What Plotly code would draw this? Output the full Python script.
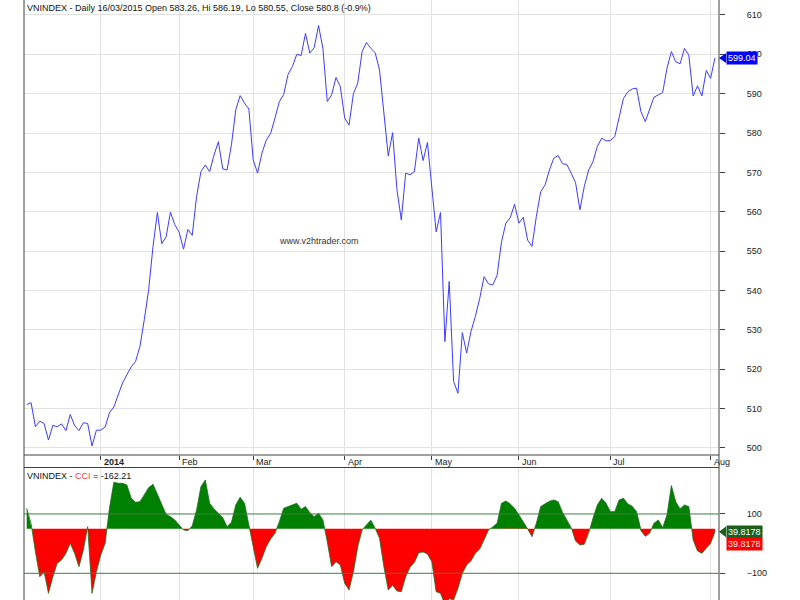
import plotly.graph_objects as go

# ---------------- data ----------------
close = [
    # Dec 2013
    511.0, 511.5, 505.4, 506.8, 506.2, 502.0, 505.7, 505.4, 506.1, 504.4, 508.5, 505.7, 504.4, 506.4, 506.2, 500.5, 504.5,
    # Jan 2014
    504.5, 505.3, 508.9, 510.4, 513.7, 516.5, 518.6, 520.6, 522.0, 525.8, 532.6, 540.2, 551.2, 559.8, 551.9, 553.6, 559.9, 556.7,
    # Feb
    554.8, 550.5, 555.5, 554.0, 563.9, 570.2, 571.9, 570.2, 574.4, 577.8, 570.9, 570.6, 577.0, 585.9, 589.5, 587.6, 586.1,
    # Mar
    573.2, 569.8, 574.9, 578.2, 579.9, 583.8, 588.0, 589.8, 594.9, 596.9, 600.0, 599.7, 605.3, 600.3, 601.7, 607.3, 601.5,
    588.0, 589.7, 594.1, 591.8,
    # Apr
    583.8, 582.0, 590.0, 592.7, 600.7, 603.0, 601.5, 600.4, 596.0, 585.9, 574.2, 580.1, 565.6, 557.9, 569.8, 569.4, 570.2,
    578.7, 573.0, 577.6,
    # May
    566.4, 554.9, 559.8, 527.0, 542.3, 516.9, 513.9, 529.3, 524.1, 529.6, 533.4, 538.0, 543.5, 541.7, 541.4, 543.9, 552.4,
    557.1, 558.5, 561.9,
    # Jun
    557.1, 558.6, 552.8, 551.2, 558.8, 565.1, 566.8, 570.6, 573.6, 574.3, 572.2, 572.0, 569.8, 567.4, 560.5, 566.4, 570.6,
    572.7, 576.6, 578.7, 578.0,
    # Jul
    578.1, 579.1, 584.2, 588.8, 590.5, 591.2, 591.4, 585.5, 582.9, 586.3, 589.1, 589.7, 590.3, 596.5, 600.7, 598.1, 597.6,
    601.5, 599.8, 589.4, 592.0, 589.4, 595.9,
    # Aug
    593.9, 599.04,
]

cci = [
    119.2, 68.6, -27.0, -111.3, -94.4, -167.5, -111.3, -66.3, -55.1, -32.6, 1.1, -32.6, -77.6, -21.4, 57.3, -167.5, -94.4,
    -38.2, 1.1, 119.2, 206.8, 203.5, 203.5, 197.8, 152.9, 139.4, 141.6, 164.1, 188.9, 200.1, 166.4, 130.4, 98.9, 91.0, 79.8,
    62.9, 46.1, 43.8, 59.6, 113.5, 192.2, 214.7, 136.0, 116.9, 102.3, 87.7, 57.3, 71.9, 130.4, 156.3, 136.0, 62.9,
    -10.1, -83.2, -49.5, -10.1, 15.7, 34.8, 74.2, 119.2, 124.8, 130.4, 136.0, 115.8, 124.8, 104.5, 91.0, 102.3, 79.8,
    6.7, -77.6, -60.7, -72.0,
    -133.8, -156.3, -94.4, -10.1, 46.1, 64.0, 79.0, 51.7, 18.0, -77.6, -156.3, -139.4, -159.6, -161.9, -111.3, -79.8,
    -63.0, -30.3, -28.1, -34.9,
    -60.7, -161.9, -167.5, -205.0, -185.0, -190.0, -150.7, -100.1, -72.0, -57.4, -32.6, -18.0, 12.4, 46.1, 56.2, 68.6,
    136.0, 143.9, 133.8, 119.2,
    96.7, 74.2, 49.5, 23.6, 68.6, 124.8, 134.9, 142.8, 147.3, 141.6, 105.7, 79.8, 54.0, 9.0, -4.5, -2.3, 34.8, 85.4,
    130.4, 152.9, 136.0,
    107.9, 107.9, 147.3, 152.9, 133.8, 125.9, 107.9, 43.8, 24.7, 34.8, 68.6, 79.8, 53.9, 96.7, 195.6, 141.6, 116.9,
    130.4, 124.8, 12.4, -24.7, -32.6, -15.8,
    1.1, 39.8178,
]

month_idx = [17, 35, 52, 73, 93, 113, 134, 157]
month_lbl = ["2014", "Feb", "Mar", "Apr", "May", "Jun", "Jul", "Aug"]
price_ticks = list(range(500, 611, 10))
cci_ticks = [100, -100]
cci_levels = [100, -100]
CCI_BASE = 50

title_text = "VNINDEX - Daily 16/03/2015 Open 583.26, Hi 586.19, Lo 580.55, Close 580.8 (-0.9%)"
cci_title = "VNINDEX - <span style='color:#ff3b3b'>CCI</span> = -162.21"
watermark = "www.v2htrader.com"

# ---------------- layout constants ----------------
W, H = 800, 600
ML, MR = 24, 81
PW = W - ML - MR
FONT = "Arial"


def py(p):
    return 1 - p / H


N = len(close)
x = list(range(N))
XR = [-0.62, N - 1 + 0.93]

# split CCI into above/below baseline parts with crossing points
xs, ys = [], []
for i in range(N):
    if i > 0 and (cci[i - 1] - CCI_BASE) * (cci[i] - CCI_BASE) < 0:
        t = (CCI_BASE - cci[i - 1]) / (cci[i] - cci[i - 1])
        xs.append(i - 1 + t)
        ys.append(CCI_BASE)
    xs.append(i)
    ys.append(cci[i])
pos = [max(v, CCI_BASE) for v in ys]
neg = [min(v, CCI_BASE) for v in ys]
base = [CCI_BASE] * len(xs)

fig = go.Figure()
fig.add_trace(go.Scatter(x=x, y=close, mode="lines", line=dict(color="#3c3cff", width=1),
                         xaxis="x", yaxis="y", hoverinfo="skip"))

fig.add_trace(go.Scatter(x=xs, y=base, mode="lines", line=dict(width=0), xaxis="x2", yaxis="y2", hoverinfo="skip"))
fig.add_trace(go.Scatter(x=xs, y=pos, mode="lines", line=dict(width=0), fill="tonexty", fillcolor="#008000",
                         xaxis="x2", yaxis="y2", hoverinfo="skip"))
fig.add_trace(go.Scatter(x=xs, y=base, mode="lines", line=dict(width=0), xaxis="x2", yaxis="y2", hoverinfo="skip"))
fig.add_trace(go.Scatter(x=xs, y=neg, mode="lines", line=dict(width=0), fill="tonexty", fillcolor="#ff0000",
                         xaxis="x2", yaxis="y2", hoverinfo="skip"))
fig.add_trace(go.Scatter(x=x, y=cci, mode="lines", line=dict(color="#1f6e1f", width=0.8),
                         xaxis="x2", yaxis="y2", hoverinfo="skip"))

grid = "#e2e2e2"
axc = "#404040"
fig.update_layout(
    width=W, height=H, margin=dict(l=ML, r=MR, t=0, b=0),
    paper_bgcolor="white", plot_bgcolor="white", showlegend=False,
    font=dict(family=FONT, size=9, color="#222"),
    xaxis=dict(domain=[0, 1], anchor="y", range=XR, tickvals=month_idx, showticklabels=False,
               ticks="outside", ticklen=4, tickcolor=axc, showgrid=True, gridcolor=grid, gridwidth=1,
               zeroline=False, showline=False),
    yaxis=dict(domain=[py(455), 1], anchor="x", range=[498.2, 613.8], side="right", tickvals=price_ticks,
               ticks="outside", ticklen=5, tickcolor=axc, showgrid=True, gridcolor=grid, gridwidth=1,
               zeroline=False, showline=False, ticklabelstandoff=20,
               tickfont=dict(family=FONT, size=9, color="#222")),
    xaxis2=dict(domain=[0, 1], anchor="y2", range=XR, matches="x", tickvals=month_idx, showticklabels=False,
                ticks="", showgrid=True, gridcolor=grid, gridwidth=1, zeroline=False, showline=False),
    yaxis2=dict(domain=[0, py(468)], anchor="x2", range=[-190, 255], side="right", tickvals=cci_ticks,
                ticks="outside", ticklen=5, tickcolor=axc, showgrid=False, zeroline=False, showline=False,
                ticklabelstandoff=20, tickfont=dict(family=FONT, size=9, color="#222")),
)

shapes = []
# frame lines
for xp in (0, 1):
    shapes.append(dict(type="line", xref="paper", yref="paper", x0=xp, x1=xp, y0=0, y1=1,
                       line=dict(color=axc, width=1)))
for yp in (455, 467.5):
    shapes.append(dict(type="line", xref="paper", yref="paper", x0=0, x1=1, y0=py(yp), y1=py(yp),
                       line=dict(color=axc, width=1)))
# CCI level lines
for lv in cci_levels:
    shapes.append(dict(type="line", xref="paper", yref="y2", x0=0, x1=1, y0=lv, y1=lv,
                       line=dict(color="#3d7d3d", width=1)))

# value tags
last_p = close[-1]
last_c = cci[-1]
dx = 7 / PW
shapes.append(dict(type="path", xref="paper", yref="y", fillcolor="#0000ff", line=dict(width=0),
                   path=f"M 1,{last_p} L {1+dx},{last_p+1.25} L {1+dx},{last_p-1.25} Z"))
shapes.append(dict(type="path", xref="paper", yref="y2", fillcolor="#1d5e1d", line=dict(width=0),
                   path=f"M 1,{last_c} L {1+dx},{last_c+18} L {1+dx},{last_c-18} Z"))

ann = []
ann.append(dict(text=title_text, xref="paper", yref="paper", x=0, y=1, xanchor="left", yanchor="top",
                xshift=1, yshift=-1, showarrow=False, font=dict(family=FONT, size=9, color="#111")))
ann.append(dict(text=cci_title, xref="paper", yref="paper", x=0, y=py(468), xanchor="left", yanchor="top",
                xshift=1, yshift=-1, showarrow=False, font=dict(family=FONT, size=9, color="#111")))
ann.append(dict(text=watermark, xref="paper", yref="paper", x=(318.8 - ML) / PW, y=py(241),
                xanchor="center", yanchor="middle", showarrow=False, font=dict(family=FONT, size=9, color="#333")))
for i, lbl in zip(month_idx, month_lbl):
    txt = f"<b>{lbl}</b>" if lbl.isdigit() else lbl
    ann.append(dict(text=txt, xref="x", yref="paper", x=i, y=py(461.5), xanchor="left", yanchor="middle",
                    xshift=1, showarrow=False, font=dict(family=FONT, size=9, color="#222")))
ann.append(dict(text=f"{last_p:.2f}", xref="paper", yref="y", x=1 + dx, y=last_p, xanchor="left",
                yanchor="middle", showarrow=False, bgcolor="#0000ff", borderpad=1,
                font=dict(family=FONT, size=9, color="white")))
ann.append(dict(text=f"{last_c:.4f}", xref="paper", yref="y2", x=1 + dx, y=last_c, xanchor="left",
                yanchor="middle", showarrow=False, bgcolor="#1d5e1d", borderpad=1,
                font=dict(family=FONT, size=9, color="white")))
ann.append(dict(text=f"{last_c:.4f}", xref="paper", yref="y2", x=1 + dx, y=last_c, xanchor="left",
                yanchor="middle", yshift=-12, showarrow=False, bgcolor="#ff0000", borderpad=1,
                font=dict(family=FONT, size=9, color="#e8e8e8")))

fig.update_layout(shapes=shapes, annotations=ann)
fig.write_html("out.html")
